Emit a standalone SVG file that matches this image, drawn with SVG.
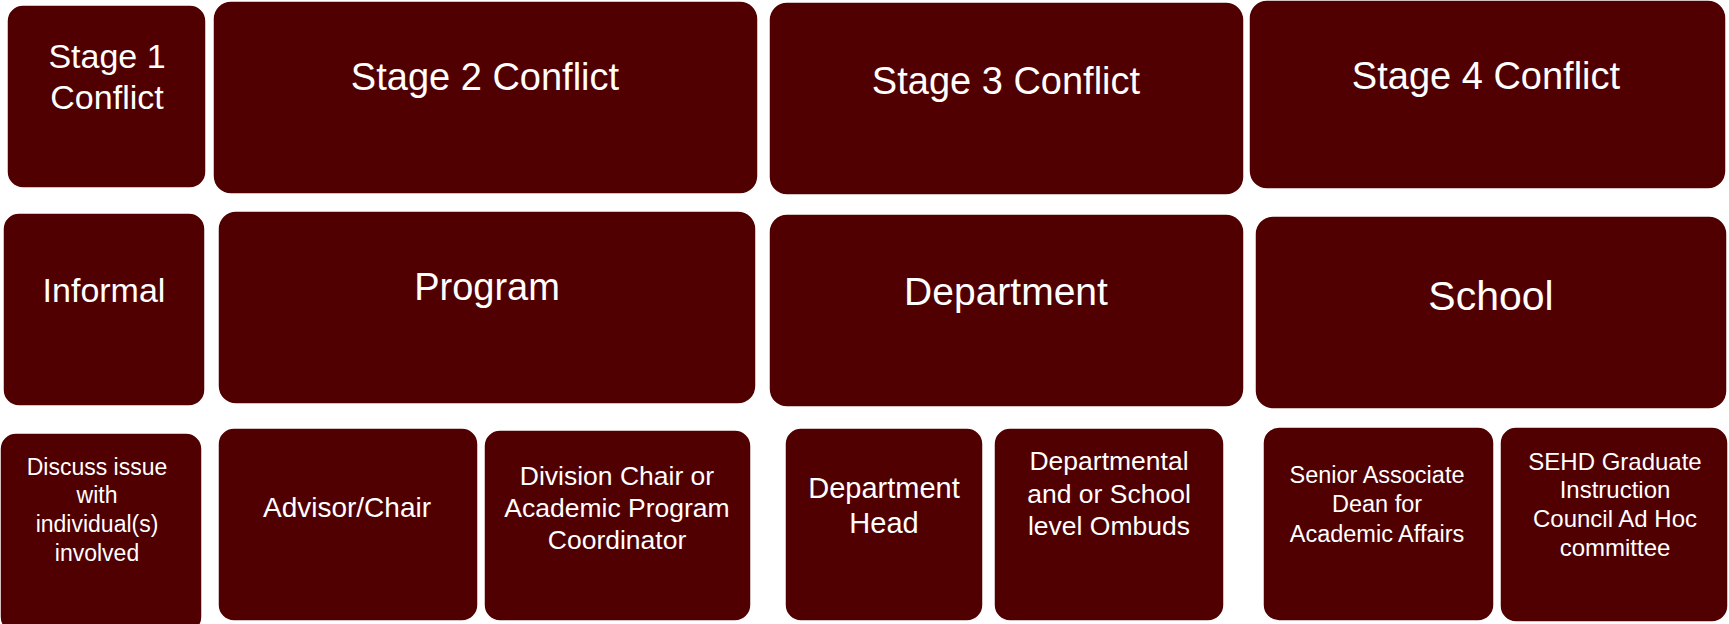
<svg xmlns="http://www.w3.org/2000/svg" width="1729" height="624" viewBox="0 0 1729 624">
<style>
.box{fill:#500000;stroke:#ffffff;stroke-width:1.5}
text{fill:#ffffff;font-family:"Liberation Sans",Arial,sans-serif;text-anchor:middle}
.h1{font-size:38px}
.h2{font-size:34px}
</style>
<rect width="1729" height="624" fill="#ffffff"/>
<g id="stage1"><rect class="box" x="7" y="5" width="199" height="183" rx="16"/><text class="h2" x="107" y="68">Stage 1</text><text class="h2" x="107" y="109">Conflict</text></g>
<g id="stage2"><rect class="box" x="213" y="1" width="545" height="193" rx="18"/><text class="h1" x="485" y="90">Stage 2 Conflict</text></g>
<g id="stage3"><rect class="box" x="769" y="2" width="475" height="193" rx="18"/><text class="h1" x="1006" y="94">Stage 3 Conflict</text></g>
<g id="stage4"><rect class="box" x="1249" y="0" width="477" height="189" rx="18"/><text class="h1" x="1486" y="89">Stage 4 Conflict</text></g>
<g id="informal"><rect class="box" x="3" y="213" width="202" height="193" rx="16"/><text x="104" y="302" font-size="34">Informal</text></g>
<g id="program"><rect class="box" x="218" y="211" width="538" height="193" rx="18"/><text x="487" y="300" font-size="38">Program</text></g>
<g id="department"><rect class="box" x="769" y="214" width="475" height="193" rx="18"/><text x="1006" y="305" font-size="39">Department</text></g>
<g id="school"><rect class="box" x="1255" y="216" width="472" height="193" rx="18"/><text x="1491" y="310" font-size="41">School</text></g>
<g id="discuss"><rect class="box" x="0" y="433" width="202" height="200" rx="16"/><g font-size="23"><text x="97" y="475">Discuss issue</text><text x="97" y="503">with</text><text x="97" y="532">individual(s)</text><text x="97" y="561">involved</text></g></g>
<g id="advisor"><rect class="box" x="218" y="428" width="260" height="193" rx="16"/><text x="347" y="517" font-size="28">Advisor/Chair</text></g>
<g id="division"><rect class="box" x="484" y="430" width="267" height="191" rx="16"/><g font-size="26.5"><text x="617" y="485">Division Chair or</text><text x="617" y="517">Academic Program</text><text x="617" y="549">Coordinator</text></g></g>
<g id="depthead"><rect class="box" x="785" y="428" width="198" height="193" rx="16"/><g font-size="29"><text x="884" y="498">Department</text><text x="884" y="533">Head</text></g></g>
<g id="ombuds"><rect class="box" x="994" y="428" width="230" height="193" rx="16"/><g font-size="26.5"><text x="1109" y="470">Departmental</text><text x="1109" y="503">and or School</text><text x="1109" y="535">level Ombuds</text></g></g>
<g id="seniordean"><rect class="box" x="1263" y="427" width="231" height="194" rx="16"/><g font-size="23.5"><text x="1377" y="483">Senior Associate</text><text x="1377" y="512">Dean for</text><text x="1377" y="542">Academic Affairs</text></g></g>
<g id="sehd"><rect class="box" x="1500" y="427" width="228" height="195" rx="16"/><g font-size="24"><text x="1615" y="470">SEHD Graduate</text><text x="1615" y="498">Instruction</text><text x="1615" y="527">Council Ad Hoc</text><text x="1615" y="556">committee</text></g></g>
<g id="connectors"></g>
</svg>
